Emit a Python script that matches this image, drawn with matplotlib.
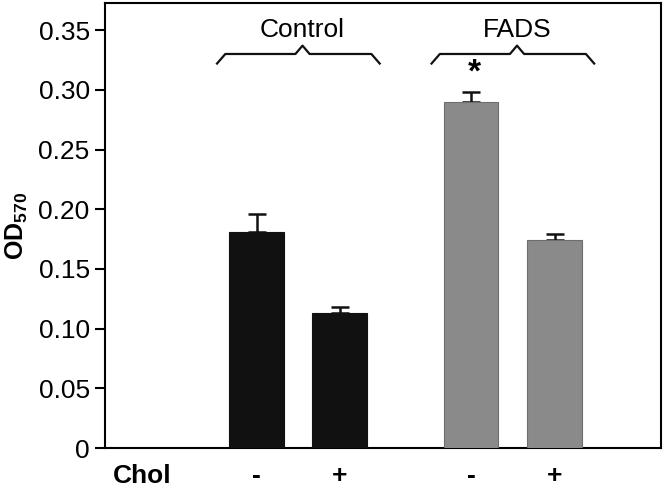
import numpy as np
import matplotlib.pyplot as plt

plt.rcParams['font.family'] = ['Liberation Sans', 'DejaVu Sans']
plt.rcParams['mathtext.fontset'] = 'custom'
plt.rcParams['mathtext.rm'] = 'Liberation Sans'
plt.rcParams['mathtext.bf'] = 'Liberation Sans:bold'

# data
groups = ['Control', 'FADS']
chol = ['-', '+', '-', '+']
values = [0.181, 0.113, 0.290, 0.174]
errors = [0.015, 0.005, 0.008, 0.005]
colors = ['#111111', '#111111', '#8a8a8a', '#8a8a8a']
edges = ['#111111', '#111111', '#6e6e6e', '#6e6e6e']
xpos = [0, 1, 2.58, 3.59]
yticks = [0, 0.05, 0.10, 0.15, 0.20, 0.25, 0.30, 0.35]
ytick_labels = ['0', '0.05', '0.10', '0.15', '0.20', '0.25', '0.30', '0.35']

fig = plt.figure(figsize=(6.64, 4.88), dpi=100)
ax = fig.add_axes([105 / 664, 40 / 488, 556 / 664, 445 / 488])

ax.bar(xpos, values, width=0.66, color=colors, edgecolor=edges, linewidth=0.8, zorder=3)
ax.errorbar(xpos, values, yerr=[np.zeros(len(values)), errors], fmt='none',
            ecolor='#111111', elinewidth=1.8, capsize=6.5, capthick=1.8, zorder=2)

ax.set_xlim(-1.83, 4.87)
ax.set_ylim(0, 0.3727)
ax.set_yticks(yticks)
ax.set_yticklabels(ytick_labels, fontsize=19)
ax.set_xticks([])
ax.tick_params(axis='y', direction='out', length=7, width=1.5, pad=4)
for s in ax.spines.values():
    s.set_linewidth(1.5)
ax.set_ylabel(r'$\mathbf{OD}_{\mathbf{570}}$', fontsize=18, labelpad=6)


def brace(x0, x1, xm, yend, yflat, ypeak):
    # curly bracket drawn as a polyline
    dx = 0.1
    pk = 0.085
    xs = [x0, x0 + dx, xm - pk, xm, xm + pk, x1 - dx, x1]
    ys = [yend, yflat, yflat, ypeak, yflat, yflat, yend]
    ax.plot(xs, ys, color='#111111', lw=1.6, clip_on=False)


centers = [(xpos[0] + xpos[1]) / 2, (xpos[2] + xpos[3]) / 2]
for g, c in zip(groups, centers):
    brace(c - 0.98, c + 0.98, c + 0.05, 0.322, 0.330, 0.337)
    ax.text(c + 0.05, 0.350, g, ha='center', va='center', fontsize=19)

ax.text(xpos[2] + 0.04, 0.314, '*', ha='center', va='center', fontsize=24, fontweight='bold')

for x, lab in zip(xpos, chol):
    ax.text(x, -0.0235, lab, ha='center', va='center', fontsize=19, fontweight='bold')
ax.text(-1.38, -0.0235, 'Chol', ha='center', va='center', fontsize=19, fontweight='bold')

fig.savefig('out.png', dpi=100)
